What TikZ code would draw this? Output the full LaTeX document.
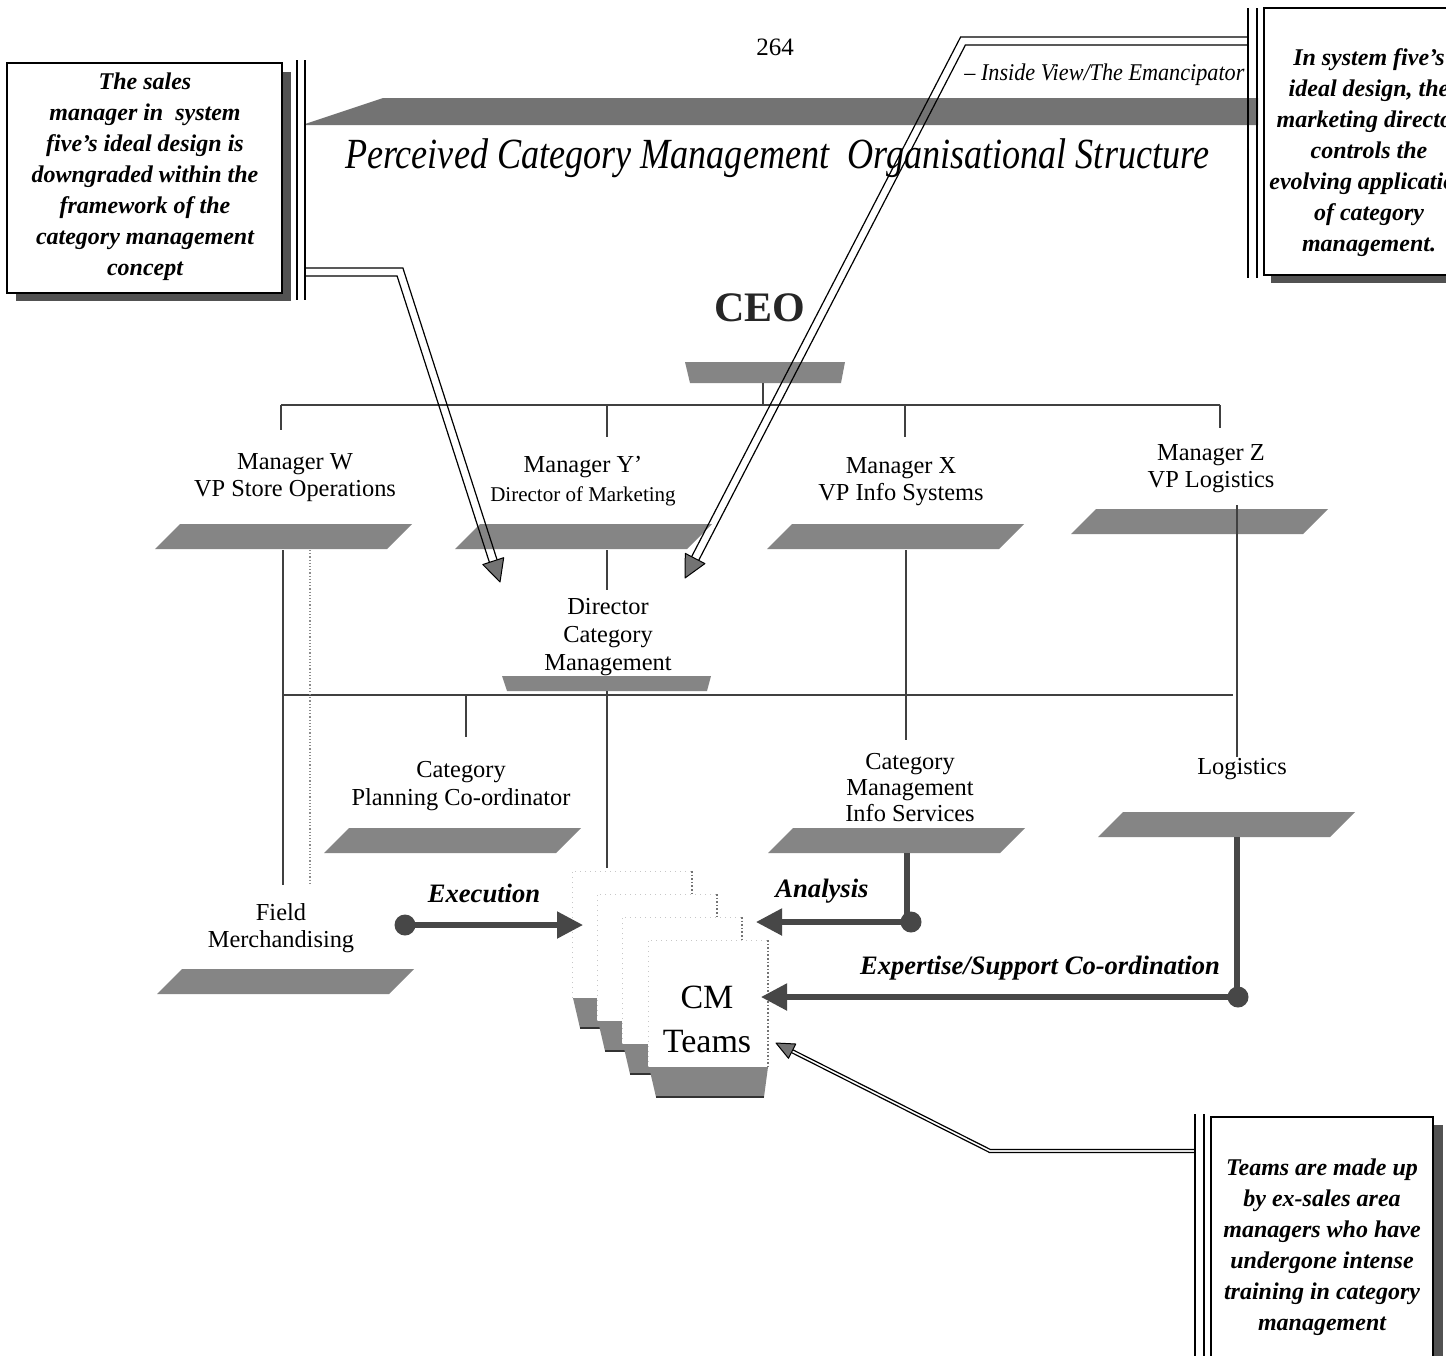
\documentclass[tikz,border=0pt]{standalone}
\usepackage{fontspec}
\setmainfont{Liberation Serif}
\usepackage{graphicx}
\usetikzlibrary{arrows.meta}

\definecolor{slabgray}{gray}{0.52}
\definecolor{bandgray}{gray}{0.45}
\definecolor{flowgray}{gray}{0.28}
\definecolor{shadegray}{gray}{0.32}

% slanted plate under a label: name, centre x, centre y
\newcommand\slab[3]{%
  \fill[slabgray] (#2-128,#3+12) -- (#2-103,#3-13) -- (#2+129,#3-13) -- (#2+104,#3+12) -- cycle;
  \coordinate (#1) at (#2,#3);}

% one sheet of the team stack: name, left x, top y
\newcommand\cmpage[3]{%
  \fill[white] (#2,#3) rectangle (#2+120,#3+127);
  \draw[pageedge] (#2,#3+127) -- (#2,#3) -- (#2+120,#3);
  \draw[pageside] (#2+120,#3) -- (#2+120,#3+127);
  \fill[slabgray] (#2+1,#3+127) -- (#2+120,#3+127) -- (#2+116,#3+157) -- (#2+8,#3+157) -- cycle;
  \draw[line width=0.9pt,black!80] (#2+8,#3+157) -- (#2+116,#3+157);
  \coordinate (#1) at (#2+60,#3+63);}

\begin{document}
\begin{tikzpicture}[x=0.5pt,y=-0.5pt,
  lbl/.style={font=\fontsize{12.2}{13.6}\selectfont, align=center, inner sep=0pt},
  note/.style={font=\fontsize{12}{15.5}\selectfont\bfseries\itshape, align=center, inner sep=0pt},
  flowlbl/.style={font=\fontsize{13.3}{15}\selectfont\bfseries\itshape, inner sep=0pt},
  orgline/.style={line width=0.8pt, draw=black!75},
  faintline/.style={line width=0.6pt, draw=black!45, densely dotted},
  bracket/.style={line width=0.6pt, draw=black},
  calline/.style={line width=0.6pt, draw=black},
  calhead/.style={fill=black!55, draw=black, line width=0.5pt, line join=round},
  flowline/.style={line width=2.6pt, draw=flowgray},
  flow/.style={line width=2.6pt, draw=flowgray, -{Triangle[length=13pt,width=13pt]}},
  ball/.style={circle, fill=flowgray, inner sep=0pt, minimum size=10.5pt},
  pageedge/.style={line width=0.5pt, draw=black!22, dotted},
  pageside/.style={line width=0.8pt, draw=black!55, densely dotted}]

\useasboundingbox (0,0) rectangle (1446,1355);
\clip (0,0) rectangle (1446,1355);
\fill[white] (0,0) rectangle (1446,1355);

% ---------- page number and running head ----------
\node[font=\fontsize{12.5}{14}\selectfont] (pageno) at (775,47) {264};
\node[anchor=west, inner sep=0pt] (runhead) at (964,75)
  {\resizebox{140pt}{\height}{\fontsize{12}{14}\selectfont\itshape -- Inside View/The Emancipator}};

% ---------- banner and title ----------
\fill[bandgray] (305,124) -- (383,98) -- (1258,98) -- (1258,125) -- (305,125) -- cycle;
\node[inner sep=0pt] (title) at (777,158)
  {\resizebox{432pt}{\height}{\fontsize{21.5}{26}\selectfont\itshape Perceived Category Management\ \ Organisational Structure}};

% ---------- left note ----------
\fill[shadegray] (16,72) rectangle (291,301);
\filldraw[fill=white, draw=black, line width=0.6pt] (7,63) rectangle (282,293);
\node[note] (notel) at (145,177) {The sales\\manager in\ \ system\\five’s ideal design is\\downgraded within the\\framework of the\\category management\\concept};
\draw[bracket] (297,60) -- (297,300) (305,60) -- (305,300);
\coordinate (notelA) at (305,268);
\coordinate (notelB) at (305,276);

% ---------- right note ----------
\fill[shadegray] (1271,15) rectangle (1475,283);
\filldraw[fill=white, draw=black, line width=0.6pt] (1264,8) rectangle (1468,275);
\node[note] (noter) at (1369,153) {In system five’s\\ideal design, the\\marketing director\\controls the\\evolving application\\of category\\management.};
\draw[bracket] (1248,8) -- (1248,278) (1257,8) -- (1257,278);
\coordinate (noterA) at (1248,37);
\coordinate (noterB) at (1248,45);

% ---------- bottom note ----------
\fill[shadegray] (1220,1125) rectangle (1443,1370);
\filldraw[fill=white, draw=black, line width=0.6pt] (1211,1117) rectangle (1433,1365);
\node[note] (noteb) at (1322,1247) {Teams are made up\\by ex-sales area\\managers who have\\undergone intense\\training in category\\management};
\draw[bracket] (1195,1114) -- (1195,1360) (1204,1114) -- (1204,1360);
\coordinate (notebA) at (1195,1149.5);
\coordinate (notebB) at (1195,1152.5);

% ---------- CEO ----------
\node[font=\fontsize{21}{24}\selectfont\bfseries, text=black!85, inner sep=0pt] (ceo) at (760,308) {CEO};
\fill[slabgray] (685,362) -- (845,362) -- (841,383) -- (690,383) -- cycle;
\coordinate (ceob) at (763,383);

% ---------- upper reporting line ----------
\coordinate (busA-l) at (281,405);
\coordinate (busA-r) at (1220,405);
\draw[orgline] (ceob) -- (ceob |- busA-l);
\draw[orgline] (busA-l) -- (busA-r);
\draw[orgline] (busA-l) -- ++(0,25);
\draw[orgline] (607,405) -- ++(0,32);
\draw[orgline] (905,405) -- ++(0,32);
\draw[orgline] (busA-r) -- ++(0,23);

% ---------- managers ----------
\node[lbl] (mw) at (295,478) {Manager W\\VP Store Operations};
\node[lbl] (my) at (583,481) {Manager Y’\\[1pt]{\fontsize{10.5}{12}\selectfont Director of Marketing}};
\node[lbl] (mx) at (901,482) {Manager X\\VP Info Systems};
\node[lbl] (mz) at (1211,469) {Manager Z\\VP Logistics};
\slab{ws}{283}{537}
\slab{ys}{583}{537}
\slab{xs}{895}{537}
\slab{zs}{1199}{522}

% ---------- director ----------
\node[lbl, font=\fontsize{12.2}{13.8}\selectfont] (dir) at (608,637) {Director\\Category\\Management};
\fill[slabgray] (502,676) -- (711,676) -- (707,691) -- (507,691) -- cycle;
\coordinate (dirb) at (607,691);

% ---------- lower reporting line ----------
\coordinate (busB-l) at (283,695);
\coordinate (busB-r) at (1233,695);
\draw[orgline] (busB-l) -- (busB-r);
\draw[orgline] (283,550) -- (283,885);
\draw[faintline] (310,550) -- (310,885);
\draw[orgline] (607,550) -- (607,590);
\draw[orgline] (dirb) -- (607,868);
\draw[orgline] (906,550) -- (906,740);
\draw[orgline] (466,695) -- (466,737);
\draw[orgline] (1237,505) -- (1237,757);

% ---------- units ----------
\node[lbl] (cpc) at (461,786) {Category\\Planning Co-ordinator};
\slab{cpcs}{452}{841}
\node[lbl, font=\fontsize{12.2}{13}\selectfont] (cmis) at (910,788) {Category\\Management\\Info Services};
\slab{cmiss}{896}{841}
\node[lbl] (logi) at (1242,769) {Logistics};
\slab{logs}{1226}{825}
\node[lbl] (fm) at (281,928) {Field\\Merchandising};
\slab{fms}{285}{982}

% ---------- CM team stack ----------
\cmpage{cm4}{572}{871}
\cmpage{cm3}{597}{894}
\cmpage{cm2}{622}{917}
\cmpage{cm1}{648}{940}
\node[font=\fontsize{17}{22}\selectfont, align=center, inner sep=0pt] (cm) at (707,1019) {CM\\Teams};

% ---------- flows into the teams ----------
\node[ball] (exe) at (405,925) {};
\draw[flow] (exe.center) -- (583,925);
\node[flowlbl] (exel) at (484,893) {Execution};

\node[ball] (ana) at (911,922) {};
\draw[flowline] (907,853) -- (907,922);
\draw[flow] (ana.center) -- (756,922);
\node[flowlbl] (anal) at (822,891) {Analysis};

\node[ball] (exp) at (1238,997) {};
\draw[flowline] (1237,837) -- (1237,997);
\draw[flow] (exp.center) -- (761,997);
\node[flowlbl] (expl) at (1040,968) {Expertise/Support Co-ordination};

% ---------- note pointers ----------
\draw[calline] (notelA) -- (402.9,268) -- (497.1,559.9);
\draw[calline] (notelB) -- (397.1,276) -- (489.4,562.3);
\filldraw[calhead] (500,582) -- (503.7,557.7) -- (482.8,564.5) -- cycle;

\draw[calline] (noterA) -- (960.6,37) -- (691.6,556.7);
\draw[calline] (noterB) -- (965.4,45) -- (698.7,560.3);
\filldraw[calhead] (685,578) -- (704.9,563.6) -- (685.3,553.4) -- cycle;

\draw[calline] (notebA) -- (990.4,1149.5) -- (792.8,1049.8);
\draw[calline] (notebB) -- (989.6,1152.5) -- (791.4,1052.5);
\filldraw[calhead] (776,1043) -- (788.5,1058.3) -- (795.7,1044.0) -- cycle;

\end{tikzpicture}
\end{document}
